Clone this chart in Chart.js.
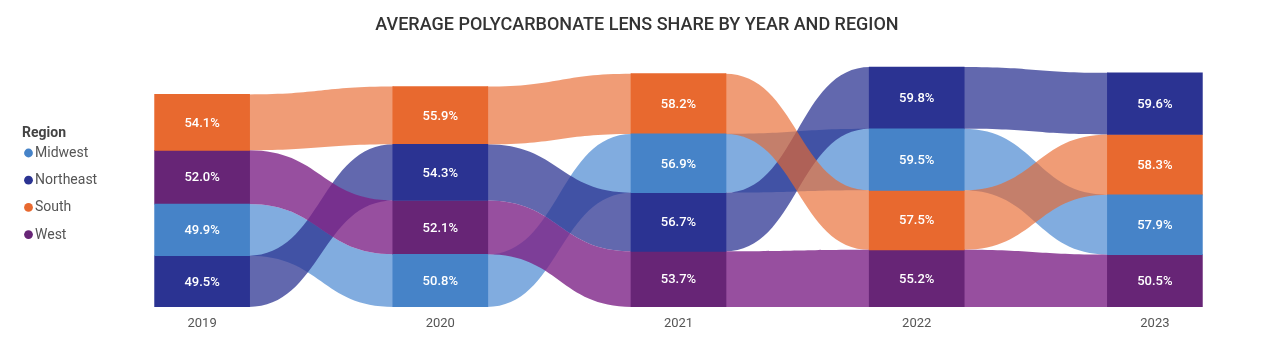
<!DOCTYPE html>
<html>
<head>
<meta charset="utf-8">
<title>Ribbon chart</title>
<script src="https://cdn.jsdelivr.net/npm/chart.js@4/dist/chart.umd.min.js"></script>
<style>
html, body { margin: 0; padding: 0; background: #fff; }
#wrap { width: 1280px; height: 351px; position: relative; }
</style>
</head>
<body>
<div id="wrap"><canvas id="ruban"></canvas></div>
<script>
var annees = ['2019', '2020', '2021', '2022', '2023'];
var regions = ['Midwest', 'Northeast', 'South', 'West'];
var midwest = [49.9, 50.8, 56.9, 59.5, 57.9];
var northeast = [49.5, 54.3, 56.7, 59.8, 59.6];
var south = [54.1, 55.9, 58.2, 57.5, 58.3];
var west = [52.0, 52.1, 53.7, 55.2, 50.5];

var couleurs = ['#4683c8', '#2b3392', '#e8692f', '#672576'];
var couleursRuban = ['rgba(80,140,210,0.72)', 'rgba(43,51,146,0.74)', 'rgba(232,105,47,0.66)', 'rgba(125,35,135,0.8)'];

/**
 * empile les valeurs de chaque annee, la plus forte en haut
 * @param {Array} series
 */
function calculePiles(series)
{
    var piles = series.map(function () { return []; });

    annees.forEach(function (a, i) {
        var ordre = series.map(function (s, k) { return k; });
        ordre.sort(function (p, q) { return series[p][i] - series[q][i]; });
        var bas = 0;
        ordre.forEach(function (k) {
            piles[k][i] = [bas, bas + series[k][i]];
            bas += series[k][i];
        });
    });

    return piles;
}

var series = [midwest, northeast, south, west];
var piles = calculePiles(series);

// rubans entre les colonnes, dessines sous les barres
var pluginRubans = {
    id: 'rubans',
    beforeDatasetsDraw: function (chart) {
        var ctx = chart.ctx;
        chart.data.datasets.forEach(function (ds, k) {
            var meta = chart.getDatasetMeta(k);
            ctx.save();
            ctx.fillStyle = couleursRuban[k];
            for (var i = 0; i < meta.data.length - 1; i++) {
                var b0 = meta.data[i], b1 = meta.data[i + 1];
                var x0 = b0.x + b0.width / 2 - 1,
                    x1 = b1.x - b1.width / 2 + 1,
                    xm = (x0 + x1) / 2;
                ctx.beginPath();
                ctx.moveTo(x0, b0.y);
                ctx.bezierCurveTo(xm, b0.y, xm, b1.y, x1, b1.y);
                ctx.lineTo(x1, b1.base);
                ctx.bezierCurveTo(xm, b1.base, xm, b0.base, x0, b0.base);
                ctx.closePath();
                ctx.fill();
            }
            ctx.restore();
        });
    }
};

// valeurs dans les barres
var pluginEtiquettes = {
    id: 'etiquettes',
    afterDatasetsDraw: function (chart) {
        var ctx = chart.ctx;
        ctx.save();
        ctx.font = '500 13px Roboto';
        ctx.fillStyle = '#ffffff';
        ctx.textAlign = 'center';
        ctx.textBaseline = 'middle';
        chart.data.datasets.forEach(function (ds, k) {
            var meta = chart.getDatasetMeta(k);
            meta.data.forEach(function (b, i) {
                ctx.fillText(series[k][i].toFixed(1) + '%', b.x, (b.y + b.base) / 2 + 1);
            });
        });
        ctx.restore();
    }
};

// legende a gauche
var pluginLegende = {
    id: 'legende',
    afterDraw: function (chart) {
        var ctx = chart.ctx;
        ctx.save();
        ctx.textBaseline = 'middle';
        ctx.textAlign = 'left';
        ctx.font = 'bold 14px Roboto';
        ctx.fillStyle = '#444';
        ctx.fillText('Region', 22, 133);
        ctx.font = '14px Roboto';
        regions.forEach(function (r, k) {
            var yy = 153 + k * 27.2;
            ctx.beginPath();
            ctx.fillStyle = couleurs[k];
            ctx.arc(28.5, yy, 4.4, 0, Math.PI * 2);
            ctx.fill();
            ctx.fillStyle = '#555';
            ctx.fillText(r, 35, yy + 0.5);
        });
        ctx.restore();
    }
};

var datasets = regions.map(function (r, k) {
    return {
        label: r,
        data: piles[k],
        backgroundColor: couleurs[k],
        borderWidth: 0,
        grouped: false,
        barThickness: 95
    };
});

new Chart(document.getElementById('ruban'), {
    type: 'bar',
    data: {
        labels: annees,
        datasets: datasets
    },
    options: {
        responsive: true,
        maintainAspectRatio: false,
        animation: false,
        layout: {
            padding: { left: 0, right: 6, top: 0, bottom: 18.5 }
        },
        scales: {
            x: {
                grid: { display: false },
                border: { display: false },
                ticks: {
                    color: '#555',
                    padding: 1,
                    font: { family: 'Roboto', size: 13 }
                }
            },
            y: {
                min: 0,
                max: 243,
                grid: { display: false },
                border: { display: false },
                ticks: { display: false },
                afterFit: function (scale) {
                    // place pour la legende
                    scale.width = 83;
                }
            }
        },
        plugins: {
            legend: { display: false },
            tooltip: { enabled: false },
            title: {
                display: true,
                text: 'AVERAGE POLYCARBONATE LENS SHARE BY YEAR AND REGION',
                color: '#333',
                font: { family: 'Roboto', size: 18, weight: '500' },
                padding: { top: 15, bottom: 19 }
            }
        }
    },
    plugins: [pluginRubans, pluginEtiquettes, pluginLegende]
});
</script>
</body>
</html>
